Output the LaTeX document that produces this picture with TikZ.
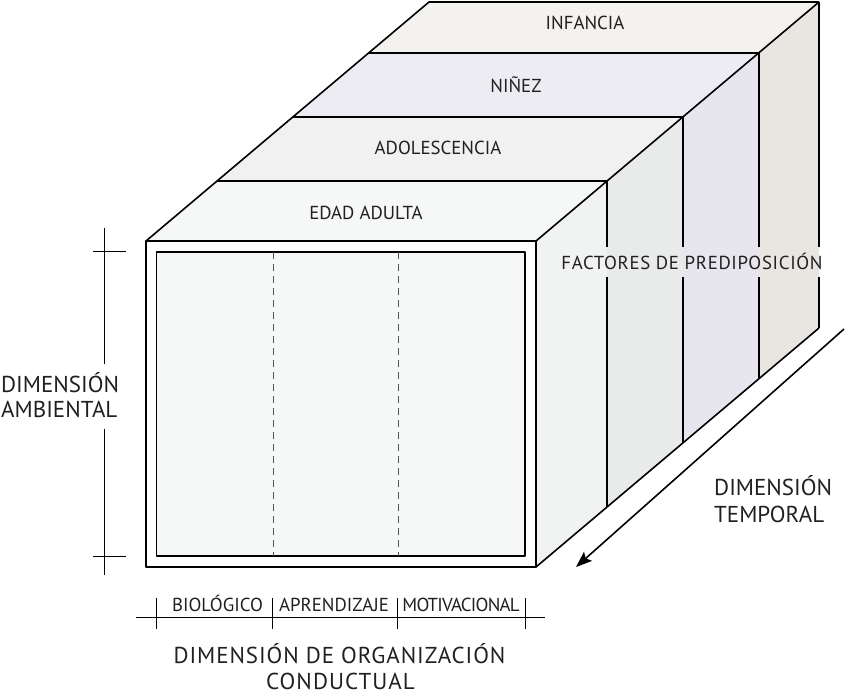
\documentclass[tikz,border=0pt]{standalone}
\usepackage{fontspec}
\setmainfont{PT Sans}
\usetikzlibrary{arrows.meta}
\definecolor{txt}{HTML}{231F20}
\definecolor{topA}{HTML}{F6F8F8}
\definecolor{topB}{HTML}{F0F1F0}
\definecolor{topC}{HTML}{EEECF3}
\definecolor{topD}{HTML}{F4F2EE}
\definecolor{sideA}{HTML}{F1F3F3}
\definecolor{sideB}{HTML}{E9EBEA}
\definecolor{sideC}{HTML}{E7E5ED}
\definecolor{sideD}{HTML}{E9E6E1}
\definecolor{frontin}{HTML}{F6F8F8}
\definecolor{dashc}{HTML}{555555}
\begin{document}
\begin{tikzpicture}[x=1pt,y=-1pt,
  edge/.style={line width=1.6pt, line join=round, draw=black},
  axis/.style={line width=0.9pt, draw=black},
  divline/.style={line width=0.8pt, draw=dashc, dash pattern=on 7pt off 5pt},
  lbl/.style={font=\fontsize{18.8}{22}\selectfont, text=txt, inner sep=0pt},
  biglbl/.style={font=\fontsize{23}{27}\selectfont, text=txt, inner sep=0pt}]
\useasboundingbox (0,0) rectangle (850,695);
% box corners
\coordinate (L0) at (146,241); \coordinate (R0) at (536,241);
\coordinate (L1) at (217,181); \coordinate (R1) at (607,181);
\coordinate (L2) at (293,117); \coordinate (R2) at (683,117);
\coordinate (L3) at (369,53);  \coordinate (R3) at (759,53);
\coordinate (L4) at (429,2);   \coordinate (R4) at (819,2);
\coordinate (B0) at (536,567); \coordinate (B1) at (607,507);
\coordinate (B2) at (683,443); \coordinate (B3) at (759,378);
\coordinate (B4) at (819,328);
\coordinate (gt) at (0,247); \coordinate (gb) at (0,277);
% top faces
\fill[topA] (L0)--(R0)--(R1)--(L1)--cycle;
\fill[topB] (L1)--(R1)--(R2)--(L2)--cycle;
\fill[topC] (L2)--(R2)--(R3)--(L3)--cycle;
\fill[topD] (L3)--(R3)--(R4)--(L4)--cycle;
% side faces
\fill[sideA] (R0)--(R1)--(B1)--(B0)--cycle;
\fill[sideB] (R1)--(R2)--(B2)--(B1)--cycle;
\fill[sideC] (R2)--(R3)--(B3)--(B2)--cycle;
\fill[sideD] (R3)--(R4)--(B4)--(B3)--cycle;
% top outlines
\draw[edge] (L0)--(L4)--(R4);
\draw[edge] (L1)--(R1); \draw[edge] (L2)--(R2); \draw[edge] (L3)--(R3);
\draw[edge] (R0)--(R4);
\draw[edge] (B0)--(B4);
% vertical separators with gap for label
\foreach \k in {1,2,3,4}{
  \draw[edge] (R\k) -- (R\k |- gt);
  \draw[edge] (R\k |- gb) -- (B\k);
}
% front face
\draw[edge, fill=white] (L0) rectangle (B0);
\coordinate (I1) at (156.5,252); \coordinate (I2) at (525,556);
\draw[edge, fill=frontin] (I1) rectangle (I2);
\coordinate (D1t) at (273,252); \coordinate (D1b) at (273,556);
\coordinate (D2t) at (398,252); \coordinate (D2b) at (398,556);
\draw[divline] (D1t)--(D1b);
\draw[divline] (D2t)--(D2b);
% labels on top
\node[lbl, anchor=base] (inf) at (585,30) {INFANCIA};
\node[lbl, anchor=base] (nin) at (516,93) {NIÑEZ};
\node[lbl, anchor=base] (ado) at (438,155) {ADOLESCENCIA};
\node[lbl, anchor=base] (adu) at (366,219) {EDAD ADULTA};
\node[lbl, anchor=base] (fac) at (692,269) {\addfontfeatures{LetterSpace=3.6}FACTORES DE PREDIPOSICIÓN};
% left axis (broken around the label)
\coordinate (VA) at (104.5,228); \coordinate (VA2) at (104.5,364);
\coordinate (VB2) at (104.5,429); \coordinate (VB) at (104.5,575);
\coordinate (T1a) at (93,251.5); \coordinate (T1b) at (126,251.5);
\coordinate (T2a) at (93,556); \coordinate (T2b) at (126,556);
\draw[axis] (VA)--(VA2);
\draw[axis] (VB2)--(VB);
\draw[axis] (T1a)--(T1b);
\draw[axis] (T2a)--(T2b);
\node[biglbl, anchor=base west] (amb1) at (1,392) {DIMENSIÓN};
\node[biglbl, anchor=base west] (amb2) at (1,417) {AMBIENTAL};
% bottom axis
\coordinate (HA) at (136,617.5); \coordinate (HB) at (545,617.5);
\draw[axis] (HA)--(HB);
\foreach \x [count=\i] in {156.7,272.7,397.7,525}{
  \coordinate (bt\i) at (\x,598); \coordinate (bb\i) at (\x,629);
  \draw[axis] (bt\i)--(bb\i);
}
\node[lbl, anchor=base] (bio) at (217.5,611) {BIOLÓGICO};
\node[lbl, anchor=base] (apr) at (334,611) {APRENDIZAJE};
\node[lbl, anchor=base] (mot) at (461,611) {\addfontfeatures{LetterSpace=-4}MOTIVACIONAL};
\node[biglbl, anchor=base] (org1) at (339.5,663) {\addfontfeatures{LetterSpace=4}DIMENSIÓN DE ORGANIZACIÓN};
\node[biglbl, anchor=base] (org2) at (340.5,689) {\addfontfeatures{LetterSpace=4.5}CONDUCTUAL};
% temporal arrow
\coordinate (AS) at (844,329); \coordinate (AE) at (576,567);
\draw[line width=1.6pt, -{Stealth[length=16pt,width=12pt,inset=3pt]}] (AS)--(AE);
\node[biglbl, anchor=base west] (tem1) at (714,495) {DIMENSIÓN};
\node[biglbl, anchor=base west] (tem2) at (714,522) {TEMPORAL};
\end{tikzpicture}
\end{document}
